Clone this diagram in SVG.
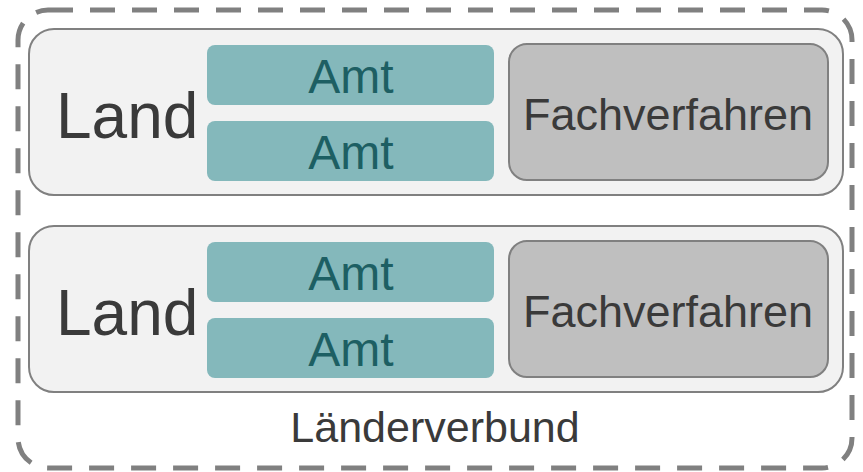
<svg xmlns="http://www.w3.org/2000/svg" width="863" height="472" viewBox="0 0 863 472">
<style>
.outer{fill:none;stroke:#808080;stroke-width:5;stroke-dasharray:25 17}
.land{fill:#f2f2f2;stroke:#808080;stroke-width:2}
.amt{fill:#84b8bb;stroke:none}
.fach{fill:#bfbfbf;stroke:#808080;stroke-width:2}
text{font-family:"Liberation Sans",Arial,sans-serif;text-anchor:middle}
.tland{font-size:64px;fill:#3a3a3a;text-anchor:start}
.tamt{font-size:48px;fill:#1d5f63}
.tfach{font-size:45px;fill:#3a3a3a}
.tver{font-size:43px;fill:#3a3a3a}
</style>
<rect width="863" height="472" fill="#ffffff"/>
<g id="laenderverbund">
<rect class="outer" x="18" y="10" width="834" height="458" rx="30"/>
<text class="tver" x="435" y="442">Länderverbund</text>
</g>
<g id="land1">
<rect class="land" x="29" y="29" width="814" height="166" rx="25"/>
<text class="tland" x="56" y="138">Land</text>
</g>
<g id="amt1a">
<rect class="amt" x="207" y="45" width="287" height="60" rx="8"/>
<text class="tamt" x="351" y="93">Amt</text>
</g>
<g id="amt1b">
<rect class="amt" x="207" y="121" width="287" height="60" rx="8"/>
<text class="tamt" x="351" y="169">Amt</text>
</g>
<g id="fach1">
<rect class="fach" x="509" y="44" width="319" height="136" rx="18"/>
<text class="tfach" x="668" y="130">Fachverfahren</text>
</g>
<g id="land2">
<rect class="land" x="29" y="226" width="814" height="166" rx="25"/>
<text class="tland" x="56" y="335">Land</text>
</g>
<g id="amt2a">
<rect class="amt" x="207" y="242" width="287" height="60" rx="8"/>
<text class="tamt" x="351" y="290">Amt</text>
</g>
<g id="amt2b">
<rect class="amt" x="207" y="318" width="287" height="60" rx="8"/>
<text class="tamt" x="351" y="366">Amt</text>
</g>
<g id="fach2">
<rect class="fach" x="509" y="241" width="319" height="136" rx="18"/>
<text class="tfach" x="668" y="327">Fachverfahren</text>
</g>
<g id="connectors"></g>
</svg>
